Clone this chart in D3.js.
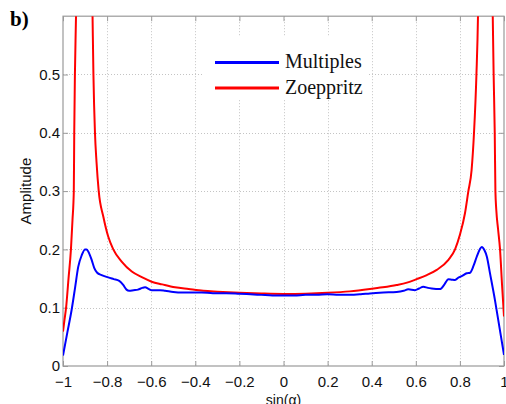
<!DOCTYPE html>
<html>
<head>
<meta charset="utf-8">
<script src="https://cdn.jsdelivr.net/npm/d3@7"></script>
<style>
  html, body { margin: 0; padding: 0; background: #fff; }
  svg { display: block; }
</style>
</head>
<body>
<svg id="chart" width="506" height="404"></svg>
<script>
// tick values
const xTicks = [-1, -0.8, -0.6, -0.4, -0.2, 0, 0.2, 0.4, 0.6, 0.8, 1];
const yTicks = [0, 0.1, 0.2, 0.3, 0.4, 0.5];

// Multiples curve (blue)
const multiplesSin = [-1.0, -0.98, -0.961, -0.945, -0.931, -0.915, -0.9, -0.893, -0.885, -0.87, -0.858, -0.845,
  -0.825, -0.795, -0.77, -0.745, -0.727, -0.712, -0.7, -0.68, -0.66, -0.64, -0.628, -0.61, -0.598, -0.56,
  -0.537, -0.5, -0.462, -0.42, -0.371, -0.32, -0.26, -0.2, -0.15, -0.1, -0.05, 0, 0.05, 0.1, 0.15, 0.2,
  0.25, 0.3, 0.35, 0.392, 0.453, 0.513, 0.545, 0.566, 0.596, 0.615, 0.634, 0.655, 0.672, 0.71, 0.73,
  0.748, 0.765, 0.778, 0.795, 0.808, 0.831, 0.846, 0.862, 0.876, 0.89, 0.899, 0.912, 0.922, 0.937,
  0.959, 0.98, 1.0];
const multiplesAmp = [0.018, 0.058, 0.096, 0.135, 0.170, 0.190, 0.200, 0.200, 0.196, 0.182, 0.168, 0.160,
  0.156, 0.152, 0.149, 0.146, 0.139, 0.131, 0.129, 0.130, 0.131, 0.134, 0.135, 0.132, 0.130, 0.130,
  0.129, 0.127, 0.126, 0.126, 0.126, 0.125, 0.125, 0.124, 0.123, 0.122, 0.121, 0.121, 0.121, 0.122, 0.122, 0.123,
  0.122, 0.122, 0.123, 0.1245, 0.126, 0.127, 0.129, 0.1315, 0.130, 0.133, 0.136, 0.134, 0.133, 0.132, 0.140,
  0.149, 0.148, 0.1475, 0.152, 0.154, 0.159, 0.160, 0.172, 0.187, 0.200, 0.204, 0.198, 0.188, 0.158,
  0.113, 0.065, 0.019];

// Zoeppritz curve (red), null = break at the singularities
const zoeppritzSin = [-1.0, -0.993, -0.986, -0.975, -0.964, -0.957, -0.951, -0.949, -0.946, -0.941, -0.939,
  -0.9,
  -0.868, -0.866, -0.862, -0.855, -0.848, -0.838, -0.817, -0.795, -0.772, -0.734, -0.688, -0.64, -0.598,
  -0.55, -0.492, -0.43, -0.364, -0.3, -0.2, -0.1, 0, 0.1, 0.2, 0.3, 0.392, 0.45, 0.513, 0.56, 0.604,
  0.65, 0.695, 0.748, 0.778, 0.8, 0.823, 0.838, 0.853, 0.864, 0.875, 0.882, 0.884,
  0.915,
  0.947, 0.949, 0.953, 0.958, 0.961, 0.965, 0.973, 0.982, 0.991, 1.0];
const zoeppritzAmp = [0.059, 0.08, 0.1, 0.15, 0.2, 0.25, 0.3, 0.4, 0.5, 0.6, 0.65,
  null,
  0.65, 0.6, 0.5, 0.4, 0.35, 0.30, 0.256, 0.222, 0.200, 0.179, 0.162, 0.152, 0.1446,
  0.140, 0.135, 0.132, 0.129, 0.1275, 0.1257, 0.1243, 0.1235, 0.124, 0.1255, 0.128, 0.132, 0.135, 0.139, 0.143, 0.149,
  0.156, 0.165, 0.182, 0.200, 0.225, 0.262, 0.299, 0.336, 0.4, 0.5, 0.6, 0.65,
  null,
  0.65, 0.6, 0.5, 0.4, 0.3, 0.268, 0.235, 0.2, 0.14, 0.085];

const legendNames = ['Multiples', 'Zoeppritz'];
const legendColors = ['#0000ff', '#ff0000'];

const svg = d3.select('#chart');
const plotLeft = 63, plotRight = 504, plotTop = 16.2, plotBottom = 366;
const axisColor = '#9a9a9a';

const x = d3.scaleLinear().domain([-1, 1]).range([plotLeft, plotRight]);
const y = d3.scaleLinear().domain([0, 0.6]).range([plotBottom, plotTop]);

svg.append('defs').append('clipPath').attr('id', 'plot-clip')
  .append('rect').attr('x', plotLeft).attr('y', plotTop)
  .attr('width', plotRight - plotLeft).attr('height', plotBottom - plotTop);

// Grid
const grid = svg.append('g').attr('class', 'grid')
  .attr('stroke', '#c4c4c4').attr('stroke-width', 1).attr('stroke-dasharray', '1,2');
xTicks.slice(1, -1).forEach(t => {
  grid.append('line').attr('x1', Math.round(x(t)) + 0.5).attr('x2', Math.round(x(t)) + 0.5)
    .attr('y1', plotTop).attr('y2', plotBottom);
});
yTicks.slice(1).forEach(t => {
  grid.append('line').attr('x1', plotLeft).attr('x2', plotRight)
    .attr('y1', Math.round(y(t)) + 0.5).attr('y2', Math.round(y(t)) + 0.5);
});

// Legend background (covers grid)
const legend = svg.append('g').attr('class', 'legend');
legend.append('rect').attr('x', 202).attr('y', 37).attr('width', 167).attr('height', 62).attr('fill', '#fff');

// Axes
const fmt = d3.format('~g');
const xAxis = svg.append('g').attr('transform', `translate(0,${plotBottom})`)
  .call(d3.axisBottom(x).tickValues(xTicks).tickFormat(fmt).tickSize(-5).tickPadding(10));
const xAxisTop = svg.append('g').attr('transform', `translate(0,${plotTop})`)
  .call(d3.axisTop(x).tickValues(xTicks).tickFormat('').tickSize(-5));
const yAxis = svg.append('g').attr('transform', `translate(${plotLeft},0)`)
  .call(d3.axisLeft(y).tickValues(yTicks).tickFormat(fmt).tickSize(-5).tickPadding(3));
const yAxisRight = svg.append('g').attr('transform', `translate(${plotRight},0)`)
  .call(d3.axisRight(y).tickValues(yTicks).tickFormat('').tickSize(-5));

[xAxis, xAxisTop, yAxis, yAxisRight].forEach(a => {
  a.select('.domain').remove();
  a.selectAll('line').attr('stroke', axisColor);
  a.selectAll('text').attr('fill', '#111').attr('font-family', 'Liberation Sans, Arial, sans-serif')
    .attr('font-size', '15px');
});

// Box
svg.append('rect').attr('x', plotLeft).attr('y', plotTop)
  .attr('width', plotRight - plotLeft).attr('height', plotBottom - plotTop)
  .attr('fill', 'none').attr('stroke', axisColor).attr('stroke-width', 1.2);

// Curves
const plot = svg.append('g').attr('clip-path', 'url(#plot-clip)');

const line = d3.line()
  .defined(d => d[1] !== null)
  .x(d => x(d[0]))
  .y(d => y(d[1]))
  .curve(d3.curveMonotoneX);

plot.append('path')
  .datum(zoeppritzSin.map((s, i) => [s, zoeppritzAmp[i]]))
  .attr('d', line).attr('fill', 'none').attr('stroke', legendColors[1]).attr('stroke-width', 2);

plot.append('path')
  .datum(multiplesSin.map((s, i) => [s, multiplesAmp[i]]))
  .attr('d', line).attr('fill', 'none').attr('stroke', legendColors[0]).attr('stroke-width', 2);

// Legend entries
legendNames.forEach((name, i) => {
  const ly = 62.5 + i * 25.5;
  legend.append('line').attr('x1', 215).attr('x2', 279).attr('y1', ly).attr('y2', ly)
    .attr('stroke', legendColors[i]).attr('stroke-width', 3);
  legend.append('text').attr('x', 285).attr('y', ly + 5.5)
    .attr('font-family', 'Liberation Serif, Times New Roman, serif').attr('font-size', '20px')
    .attr('fill', '#111').text(name);
});

// Axis labels
svg.append('text').attr('x', (plotLeft + plotRight) / 2).attr('y', 405).attr('text-anchor', 'middle')
  .attr('font-family', 'Liberation Sans, Arial, sans-serif').attr('font-size', '14px').attr('fill', '#111')
  .text('sin(α)');

svg.append('text').attr('transform', `translate(31,${(plotTop + plotBottom) / 2}) rotate(-90)`)
  .attr('text-anchor', 'middle')
  .attr('font-family', 'Liberation Sans, Arial, sans-serif').attr('font-size', '15px').attr('fill', '#111')
  .text('Amplitude');

// Panel label
svg.append('text').attr('x', 10).attr('y', 26)
  .attr('font-family', 'Liberation Serif, Times New Roman, serif').attr('font-size', '21px')
  .attr('font-weight', 'bold').attr('fill', '#000').text('b)');
</script>
</body>
</html>
